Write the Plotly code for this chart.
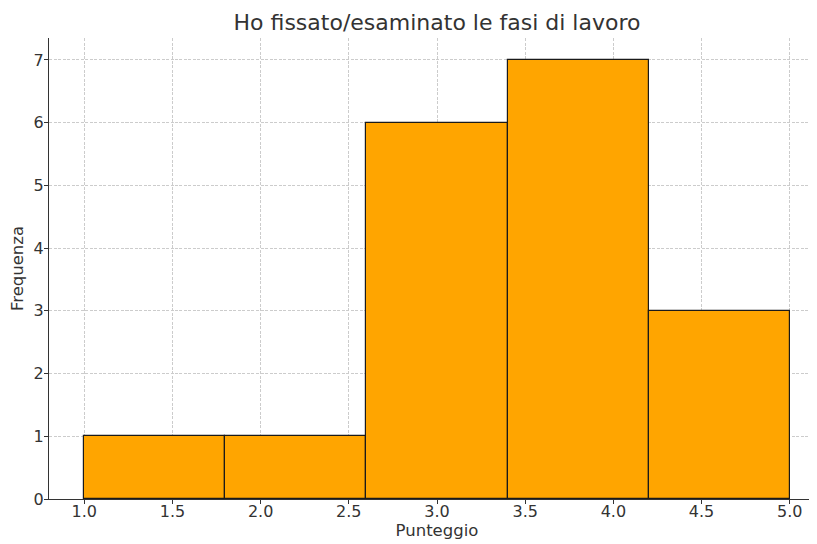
import plotly.graph_objects as go

bin_edges = [1.0, 1.8, 2.6, 3.4, 4.2, 5.0]
counts = [1, 1, 6, 7, 3]
x_ticks = [1.0, 1.5, 2.0, 2.5, 3.0, 3.5, 4.0, 4.5, 5.0]
y_ticks = [0, 1, 2, 3, 4, 5, 6, 7]

centers = [(a + b) / 2 for a, b in zip(bin_edges[:-1], bin_edges[1:])]
widths = [b - a for a, b in zip(bin_edges[:-1], bin_edges[1:])]

fig = go.Figure(go.Bar(
    x=centers, y=counts, width=widths,
    marker=dict(color="#FFA500", line=dict(color="#1a1a1a", width=1.2)),
    hoverinfo="skip",
))

axis_common = dict(
    showgrid=True, gridcolor="#cccccc", griddash="3px,1.5px", gridwidth=0.8,
    showline=True, linecolor="#333333", linewidth=1.2,
    ticks="outside", ticklen=4, tickcolor="#333333",
    tickfont=dict(size=16, color="#333333"),
    zeroline=False, layer="above traces",
)

fig.update_layout(
    width=817, height=544,
    margin=dict(l=41, r=0, t=30, b=53),
    paper_bgcolor="white", plot_bgcolor="white",
    font=dict(family="DejaVu Sans", color="#333333"),
    title=dict(text="Ho fissato/esaminato le fasi di lavoro", xref="paper", x=0.5, xanchor="center",
               y=0.974, yanchor="middle", font=dict(size=22, color="#333333")),
    showlegend=False, bargap=0,
    xaxis=dict(range=[0.8, 5.2], tickvals=x_ticks, ticktext=[f"{v:.1f}" for v in x_ticks],
               ticklabelstandoff=-6,
               title=dict(text="Punteggio", font=dict(size=16.5), standoff=4), **axis_common),
    yaxis=dict(range=[0, 7.35], tickvals=y_ticks, ticklabelstandoff=-3,
               title=dict(text="Frequenza", font=dict(size=16.5), standoff=6), **axis_common),
)

fig.write_html("out.html")
